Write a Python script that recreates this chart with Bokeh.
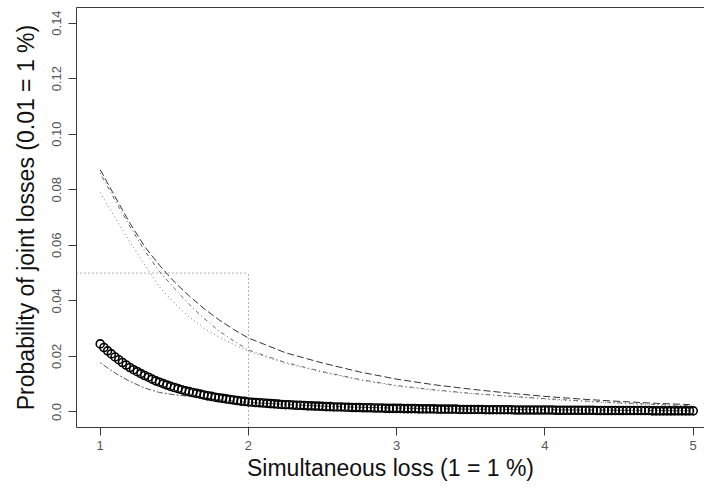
from bokeh.plotting import figure
from bokeh.models import LinearAxis, FixedTicker, Range1d
from bokeh.embed import file_html
from bokeh.resources import INLINE
import numpy as np

# ---- data ----
x_ticks = [1, 2, 3, 4, 5]
x_tick_labels = ["1", "2", "3", "4", "5"]
y_ticks = [0.0, 0.02, 0.04, 0.06, 0.08, 0.10, 0.12, 0.14]
y_tick_labels = ["0.0", "0.02", "0.04", "0.06", "0.08", "0.10", "0.12", "0.14"]

# empirical joint-loss probabilities (open circles), x step 0.025 from 1 to 5
circ_x = np.round(np.arange(1.0, 5.0001, 0.025), 3)
circ_y = [
    0.0245, 0.0232, 0.0220, 0.0209, 0.0198, 0.0188, 0.0178, 0.0169, 0.0160, 0.0152,
    0.0145, 0.0138, 0.0131, 0.0125, 0.0118, 0.0112, 0.0107, 0.0102, 0.0097, 0.0092,
    0.0088, 0.0084, 0.0080, 0.0076, 0.0073, 0.0070, 0.0067, 0.0064, 0.0061, 0.0058,
    0.0056, 0.0053, 0.0051, 0.0049, 0.0047, 0.0045, 0.0043, 0.0041, 0.0039, 0.0038,
    0.0036, 0.0035, 0.0034, 0.0033, 0.0032, 0.0031, 0.0030, 0.0029, 0.0028, 0.0027,
    0.0026, 0.0026, 0.0025, 0.0024, 0.0024, 0.0023, 0.0022, 0.0022, 0.0021, 0.0021,
    0.0020, 0.0019, 0.0019, 0.0018, 0.0018, 0.0018, 0.0017, 0.0017, 0.0016, 0.0016,
    0.0016, 0.0015, 0.0015, 0.0015, 0.0014, 0.0014, 0.0014, 0.0013, 0.0013, 0.0013,
    0.0013,
    0.0013, 0.0012, 0.0012, 0.0012, 0.0012, 0.0011, 0.0011, 0.0011, 0.0011, 0.0011,
    0.0010, 0.0010, 0.0010, 0.0010, 0.0010, 0.0010, 0.0009, 0.0009, 0.0009, 0.0009,
    0.0009, 0.0009, 0.0009, 0.0008, 0.0008, 0.0008, 0.0008, 0.0008, 0.0008, 0.0008,
    0.0008, 0.0007, 0.0007, 0.0007, 0.0007, 0.0007, 0.0007, 0.0007, 0.0007, 0.0007,
    0.0007, 0.0007, 0.0006, 0.0006, 0.0006, 0.0006, 0.0006, 0.0006, 0.0006, 0.0006,
    0.0006, 0.0006, 0.0006, 0.0005, 0.0005, 0.0005, 0.0005, 0.0005, 0.0005, 0.0005,
    0.0005, 0.0005, 0.0005, 0.0005, 0.0005, 0.0005, 0.0005, 0.0005, 0.0004, 0.0004,
    0.0004, 0.0004, 0.0004, 0.0004, 0.0004, 0.0004, 0.0004, 0.0004, 0.0004, 0.0004,
]

curve_x = [1.0, 1.1, 1.2, 1.3, 1.4, 1.5, 1.6, 1.7, 1.8, 1.9, 2.0,
           2.25, 2.5, 2.75, 3.0, 3.25, 3.5, 3.75, 4.0, 4.25, 4.5, 4.75, 5.0]
longdash_y = [0.0872, 0.0775, 0.0680, 0.0595, 0.0528, 0.0468, 0.0418, 0.0372, 0.0332, 0.0297, 0.0266,
              0.0213, 0.0176, 0.0144, 0.0118, 0.0098, 0.0082, 0.0068, 0.0056, 0.0046, 0.0038, 0.0031, 0.0026]
dotdash_y = [0.0860, 0.0762, 0.0668, 0.0580, 0.0505, 0.0445, 0.0387, 0.0337, 0.0292, 0.0256, 0.0223,
             0.0178, 0.0145, 0.0117, 0.0095, 0.0080, 0.0067, 0.0057, 0.0048, 0.0040, 0.0033, 0.0027, 0.0022]
dotted_y = [0.0790, 0.0700, 0.0612, 0.0530, 0.0450, 0.0392, 0.0342, 0.0302, 0.0270, 0.0243, 0.0218,
            0.0175, 0.0143, 0.0115, 0.0093, 0.0078, 0.0066, 0.0056, 0.0046, 0.0038, 0.0031, 0.0025, 0.0020]
lowdash_y = [0.0177, 0.0140, 0.0110, 0.0086, 0.0070, 0.0062, 0.0056, 0.0050, 0.0044, 0.0039, 0.0034,
             0.0027, 0.0021, 0.0017, 0.0014, 0.0012, 0.0010, 0.0009, 0.0008, 0.0007, 0.0006, 0.0005, 0.0004]

threshold_prob = 0.05
threshold_loss = 2.0

x_lo, x_hi = 0.84, 5.076
y_lo, y_hi = -0.0056, 0.1456

FONT = "Liberation Sans"

p = figure(width=704, height=492, output_backend="svg", toolbar_location=None,
           x_range=Range1d(x_lo, x_hi), y_range=Range1d(y_lo, y_hi))
p.min_border_left = 76
p.min_border_right = 0
p.min_border_top = 7
p.min_border_bottom = 65
p.outline_line_color = None
p.grid.visible = False
p.background_fill_color = "white"
p.border_fill_color = "white"

AX = "#3a3a3a"
for ax in (p.xaxis[0], p.yaxis[0]):
    ax.axis_line_color = AX
    ax.major_tick_line_color = AX
    ax.major_tick_out = 8
    ax.major_tick_in = 0
    ax.minor_tick_line_color = None
    ax.major_label_text_font = FONT
    ax.major_label_text_font_size = "13px"
    ax.major_label_text_color = "#555555"
    ax.axis_label_text_font = FONT
    ax.axis_label_text_font_size = "23px"
    ax.axis_label_text_font_style = "normal"
    ax.axis_label_text_color = "#111111"

xa = p.xaxis[0]
xa.ticker = FixedTicker(ticks=x_ticks)
xa.major_label_overrides = dict(zip(x_ticks, x_tick_labels))
xa.axis_label = "Simultaneous loss (1 = 1 %)"
xa.major_label_standoff = 5
xa.axis_label_standoff = 2

ya = p.yaxis[0]
ya.ticker = FixedTicker(ticks=y_ticks)
ya.major_label_overrides = dict(zip(y_ticks, y_tick_labels))
ya.major_label_orientation = "vertical"
ya.axis_label = "Probability of joint losses (0.01 = 1 %)"
ya.major_label_standoff = 7
ya.axis_label_standoff = 11

top = LinearAxis(ticker=FixedTicker(ticks=[]), axis_line_color=AX,
                 major_tick_out=0, major_tick_in=0, minor_tick_out=0, minor_tick_in=0,
                 major_label_standoff=0, axis_label_standoff=0)
p.add_layout(top, "above")

# reference threshold lines
p.line([x_lo, threshold_loss], [threshold_prob, threshold_prob],
       line_color="#666666", line_dash="1 3", line_width=1)
p.line([threshold_loss, threshold_loss], [y_lo, threshold_prob],
       line_color="#666666", line_dash="1 3", line_width=1)

# model curves
p.line(curve_x, longdash_y, line_color="#333333", line_dash="7 3", line_width=1)
p.line(curve_x, dotdash_y, line_color="#666666", line_dash="1 3 4 3", line_width=1)
p.line(curve_x, dotted_y, line_color="#777777", line_dash="1 3", line_width=1)
p.line(curve_x, lowdash_y, line_color="#555555", line_dash="2 2 6 2", line_width=1)

# empirical points
p.scatter(circ_x, circ_y, marker="circle", size=8, fill_color=None,
          line_color="black", line_width=1.6)

open("out.html", "w").write(file_html(p, INLINE))
